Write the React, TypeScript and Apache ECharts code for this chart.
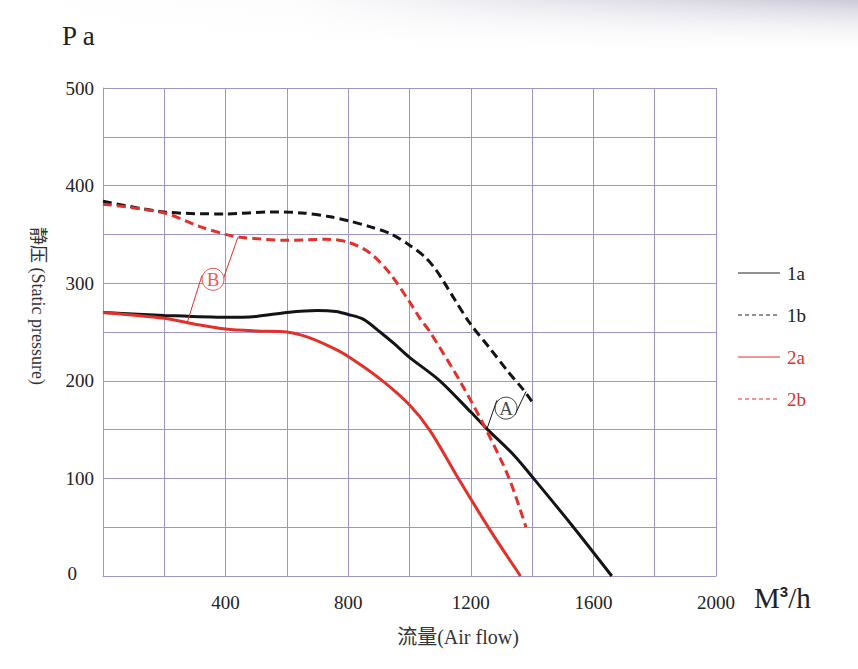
import React, { useEffect, useRef } from "react";
import * as echarts from "echarts";

// ---- data ----
const series1a: [number, number][] = [
  [0, 270], [200, 267], [400, 265], [500, 266], [600, 270], [700, 272], [760, 271],
  [800, 268], [850, 263], [904, 250], [950, 238], [1000, 224], [1099, 200], [1200, 168],
  [1255, 150], [1340, 124], [1410, 98], [1535, 50], [1660, 0],
];
const series1b: [number, number][] = [
  [0, 384], [200, 373], [400, 371], [550, 373], [650, 372], [741, 368], [800, 364],
  [870, 358], [936, 351], [1000, 339], [1050, 327], [1088, 313], [1148, 283],
  [1197, 259], [1263, 233], [1320, 210], [1371, 191], [1399, 179],
];
const series2a: [number, number][] = [
  [0, 270], [200, 264], [300, 258], [400, 253], [500, 251], [600, 250], [666, 245],
  [741, 235], [800, 225], [904, 202], [1001, 175], [1067, 149], [1165, 97],
  [1263, 47], [1362, 0],
];
const series2b: [number, number][] = [
  [0, 381], [200, 372], [316, 358], [400, 350], [450, 347], [600, 344], [730, 345],
  [800, 342], [871, 331], [936, 310], [1000, 281], [1034, 264], [1067, 250], [1164, 200],
  [1250, 150], [1325, 100], [1380, 50],
];
const legendNames = ["1a", "1b", "2a", "2b"];
const xLabelValues = [400, 800, 1200, 1600, 2000];
const yLabelValues = [0, 100, 200, 300, 400, 500];

const markerA: [number, number] = [1315, 172];
const markerB: [number, number] = [359, 304];
const leaderA: [number, number][][] = [
  [[1253, 151], [1285, 180]],
  [[1344, 165], [1380, 189]],
];
const leaderB: [number, number][][] = [
  [[323, 308], [274, 259]],
  [[391, 303], [440, 347]],
];

const BLACK = "#141414";
const RED = "#e2302a";
const GRID = "#9d97c9";
const FONT = "'Liberation Serif', 'Noto Sans CJK SC', serif";

export default function App() {
  const ref = useRef<HTMLDivElement>(null);
  useEffect(() => {
    document.body.style.margin = "0";
    const chart = echarts.init(ref.current!, null, { renderer: "svg" });

    const lineSeries = (
      name: string,
      data: [number, number][],
      color: string,
      dashed: boolean
    ) => ({
      name,
      type: "line",
      data,
      smooth: 0.3,
      showSymbol: false,
      symbol: "none",
      lineStyle: { color, width: 3, type: dashed ? [9, 5] : "solid" },
      z: 3,
    });

    const legendY = [273, 315, 357, 399];
    const legendGraphics: any[] = [];
    legendNames.forEach((n, i) => {
      const c = i < 2 ? "#222" : RED;
      legendGraphics.push({
        type: "line",
        shape: { x1: 738, y1: legendY[i], x2: 780, y2: legendY[i] },
        style: { stroke: c, lineWidth: 1, lineDash: i % 2 === 1 ? [4, 3] : null },
      });
      legendGraphics.push({
        type: "text",
        x: 787,
        y: legendY[i],
        style: {
          text: n,
          fill: c,
          font: `19px ${FONT}`,
          verticalAlign: "middle",
        },
      });
    });

    chart.setOption({
      animation: false,
      backgroundColor: "#ffffff",
      grid: { left: 103, top: 88, width: 613, height: 488, containLabel: false },
      xAxis: {
        type: "value",
        min: 0,
        max: 2000,
        interval: 200,
        axisLine: { show: true, lineStyle: { color: GRID, width: 1 } },
        axisTick: { show: false },
        splitLine: { show: true, lineStyle: { color: GRID, width: 1 } },
        axisLabel: {
          margin: 17,
          color: "#222",
          fontSize: 19,
          fontFamily: FONT,
          formatter: (v: number) => (xLabelValues.includes(v) ? String(v) : ""),
        },
      },
      yAxis: {
        type: "value",
        min: 0,
        max: 500,
        interval: 50,
        axisLine: { show: true, lineStyle: { color: GRID, width: 1 } },
        axisTick: { show: false },
        splitLine: { show: true, lineStyle: { color: GRID, width: 1 } },
        axisLabel: {
          margin: 9,
          color: "#222",
          fontSize: 19,
          fontFamily: FONT,
          formatter: (v: number) =>
            v === 0 ? "{z|0}" : yLabelValues.includes(v) ? String(v) : "",
          rich: {
            z: { fontSize: 19, fontFamily: FONT, color: "#222", padding: [0, 17, 6, 0] },
          },
        },
      },
      series: [
        lineSeries("1a", series1a, BLACK, false),
        lineSeries("1b", series1b, BLACK, true),
        lineSeries("2a", series2a, RED, false),
        lineSeries("2b", series2b, RED, true),
        {
          type: "lines",
          coordinateSystem: "cartesian2d",
          data: leaderB.map((c) => ({ coords: c })),
          lineStyle: { color: RED, width: 1, opacity: 1 },
          z: 4,
        },
        {
          type: "lines",
          coordinateSystem: "cartesian2d",
          data: leaderA.map((c) => ({ coords: c })),
          lineStyle: { color: BLACK, width: 1, opacity: 1 },
          z: 4,
        },
        {
          type: "scatter",
          data: [markerB],
          symbol: "circle",
          symbolSize: 22,
          itemStyle: { color: "#fff", borderColor: RED, borderWidth: 1 },
          label: {
            show: true,
            position: "inside",
            formatter: "B",
            color: RED,
            fontSize: 19,
            fontFamily: FONT,
          },
          z: 5,
        },
        {
          type: "scatter",
          data: [markerA],
          symbol: "circle",
          symbolSize: 22,
          itemStyle: { color: "#fff", borderColor: BLACK, borderWidth: 1 },
          label: {
            show: true,
            position: "inside",
            formatter: "A",
            color: BLACK,
            fontSize: 19,
            fontFamily: FONT,
          },
          z: 5,
        },
      ],
      graphic: [
        {
          type: "rect",
          z: -10,
          shape: { x: 0, y: 0, width: 858, height: 55 },
          style: {
            fill: new echarts.graphic.LinearGradient(0, 0, 0, 1, [
              { offset: 0, color: "rgba(196,192,210,0.85)" },
              { offset: 1, color: "rgba(255,255,255,0)" },
            ]),
          },
        },
        {
          type: "rect",
          z: -9,
          shape: { x: 0, y: 0, width: 858, height: 55 },
          style: {
            fill: new echarts.graphic.LinearGradient(0, 0, 1, 0, [
              { offset: 0, color: "rgba(255,255,255,1)" },
              { offset: 0.35, color: "rgba(255,255,255,0.95)" },
              { offset: 1, color: "rgba(255,255,255,0)" },
            ]),
          },
        },
        {
          type: "text",
          x: 62,
          y: 36,
          style: {
            text: "P a",
            fill: "#222",
            font: `27px ${FONT}`,
            verticalAlign: "middle",
          },
        },
        {
          type: "text",
          x: 38,
          y: 306,
          rotation: -Math.PI / 2,
          style: {
            text: "静压 (Static pressure)",
            fill: "#333",
            font: `18px ${FONT}`,
            align: "center",
            verticalAlign: "middle",
          },
        },
        {
          type: "text",
          x: 458,
          y: 637,
          style: {
            text: "流量(Air flow)",
            fill: "#333",
            font: `20px ${FONT}`,
            align: "center",
            verticalAlign: "middle",
          },
        },
        {
          type: "text",
          x: 754,
          y: 598,
          style: {
            text: "{a|M}{b|3}{a|/h}",
            verticalAlign: "middle",
            rich: {
              a: { fontSize: 29, fontFamily: FONT, fill: "#222", color: "#222" },
              b: {
                fontSize: 15,
                fontWeight: "bold",
                fontFamily: "'Liberation Sans', sans-serif",
                fill: "#222",
                color: "#222",
                verticalAlign: "top",
              },
            },
          },
        },
        ...legendGraphics,
      ],
    });
    return () => chart.dispose();
  }, []);
  return <div ref={ref} style={{ width: 858, height: 669 }} />;
}
